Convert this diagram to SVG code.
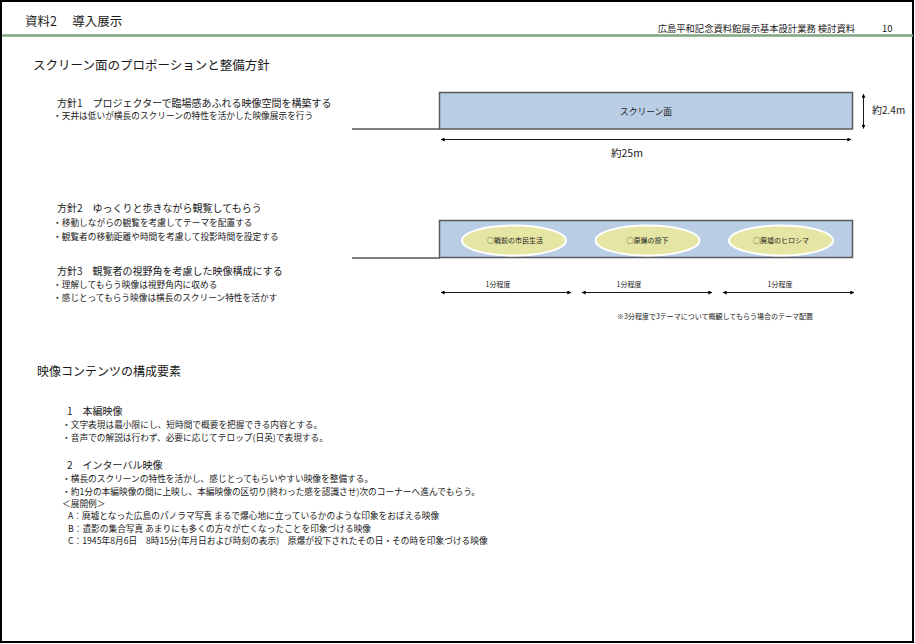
<svg xmlns="http://www.w3.org/2000/svg" width="915" height="644" viewBox="0 0 915 644">
<defs>
<style>
text{font-family:"Noto Sans CJK JP","Noto Sans",sans-serif;fill:#1a1a1a}
.h1{font-size:12px}
.h2{font-size:10px}
.b{font-size:8.7px}
.s{font-size:7px}
.scr{fill:#b9cde5;stroke:#5a5a5a;stroke-width:1.5}
.floor{stroke:#7f7f7f;stroke-width:2;fill:none}
.ell{fill:#e6e6a4;stroke:#ffffff;stroke-width:2}
.dim{stroke:#000;stroke-width:0.9;fill:none;marker-start:url(#ah);marker-end:url(#ah)}
</style>
<marker id="ah" viewBox="0 0 6 6" refX="5.5" refY="3" markerWidth="4" markerHeight="4" orient="auto-start-reverse" markerUnits="userSpaceOnUse">
<path d="M0,0 L6,3 L0,6 z" fill="#000"/>
</marker>
</defs>
<rect x="0" y="0" width="915" height="644" fill="#ffffff"/>
<rect x="1" y="1" width="912" height="641" fill="none" stroke="#000" stroke-width="2"/>

<g id="header">
<text x="25" y="26" style="font-size:12.5px">資料2　 導入展示</text>
<text x="855" y="31.5" text-anchor="end" style="font-size:9.3px">広島平和記念資料館展示基本設計業務 検討資料</text>
<text x="882" y="31.5" style="font-size:9.5px">10</text>
<line x1="2" y1="35.5" x2="913" y2="35.5" stroke="#7fa77f" stroke-width="2.5"/>
</g>

<g id="section1-text">
<text x="33" y="70" style="font-size:12.5px">スクリーン面のプロポーションと整備方針</text>
<text class="h2" x="57" y="107">方針1　プロジェクターで臨場感あふれる映像空間を構築する</text>
<text class="b" x="53" y="119">・天井は低いが横長のスクリーンの特性を活かした映像展示を行う</text>
<text class="h2" x="57" y="212">方針2　ゆっくりと歩きながら観覧してもらう</text>
<text class="b" x="53" y="226">・移動しながらの観覧を考慮してテーマを配置する</text>
<text class="b" x="53" y="240">・観覧者の移動距離や時間を考慮して投影時間を設定する</text>
<text class="h2" x="57" y="275">方針3　観覧者の視野角を考慮した映像構成にする</text>
<text class="b" x="53" y="288">・理解してもらう映像は視野角内に収める</text>
<text class="b" x="53" y="301">・感じとってもらう映像は横長のスクリーン特性を活かす</text>
</g>

<g id="screen-proportion">
<line class="floor" x1="352" y1="129" x2="440" y2="129"/>
<rect class="scr" x="439.5" y="92.5" width="413" height="36.5"/>
<text x="646" y="115" text-anchor="middle" style="font-size:8.8px">スクリーン面</text>
</g>

<g id="screen-themes">
<line class="floor" x1="352" y1="258" x2="440" y2="258"/>
<rect class="scr" x="439.5" y="220.5" width="413" height="37"/>
</g>

<g id="theme1">
<ellipse class="ell" cx="514" cy="240.5" rx="52" ry="15"/>
<text class="s" x="515" y="243" text-anchor="middle">○戦前の市民生活</text>
</g>
<g id="theme2">
<ellipse class="ell" cx="647.5" cy="240.5" rx="52" ry="15"/>
<text class="s" x="647.5" y="243" text-anchor="middle">○原爆の投下</text>
</g>
<g id="theme3">
<ellipse class="ell" cx="781" cy="240.5" rx="52" ry="15"/>
<text class="s" x="781" y="243" text-anchor="middle">○廃墟のヒロシマ</text>
</g>

<g id="connectors">
<line class="dim" x1="441" y1="139.5" x2="851" y2="139.5"/>
<line class="dim" x1="863.5" y1="94" x2="863.5" y2="128.5"/>
<line class="dim" x1="441" y1="292.5" x2="571" y2="292.5"/>
<line class="dim" x1="582" y1="292.5" x2="712" y2="292.5"/>
<line class="dim" x1="723" y1="292.5" x2="854" y2="292.5"/>
</g>

<g id="dimension-labels">
<text x="627" y="157" text-anchor="middle" style="font-size:10.5px">約25m</text>
<text x="872" y="114" style="font-size:10px">約2.4m</text>
<text class="s" x="498" y="287" text-anchor="middle">1分程度</text>
<text class="s" x="629" y="287" text-anchor="middle">1分程度</text>
<text class="s" x="780" y="287" text-anchor="middle">1分程度</text>
<text class="s" x="617" y="319">※3分程度で3テーマについて概観してもらう場合のテーマ配置</text>
</g>

<g id="section2-text">
<text class="h1" x="37" y="376">映像コンテンツの構成要素</text>
<text class="h2" x="67" y="415">1　本編映像</text>
<text class="b" x="62" y="428">・文字表現は最小限にし、短時間で概要を把握できる内容とする。</text>
<text class="b" x="62" y="441">・音声での解説は行わず、必要に応じてテロップ(日英)で表現する。</text>
<text class="h2" x="67" y="469">2　インターバル映像</text>
<text class="b" x="62" y="482">・横長のスクリーンの特性を活かし、感じとってもらいやすい映像を整備する。</text>
<text class="b" x="62" y="495">・約1分の本編映像の間に上映し、本編映像の区切り(終わった感を認識させ)次のコーナーへ進んでもらう。</text>
<text class="b" x="62" y="507">＜展開例＞</text>
<text class="b" x="68" y="519">A：廃墟となった広島のパノラマ写真 まるで爆心地に立っているかのような印象をおぼえる映像</text>
<text class="b" x="68" y="532">B：遺影の集合写真 あまりにも多くの方々が亡くなったことを印象づける映像</text>
<text class="b" x="68" y="544">C：1945年8月6日　8時15分(年月日および時刻の表示)　原爆が投下されたその日・その時を印象づける映像</text>
</g>
</svg>
